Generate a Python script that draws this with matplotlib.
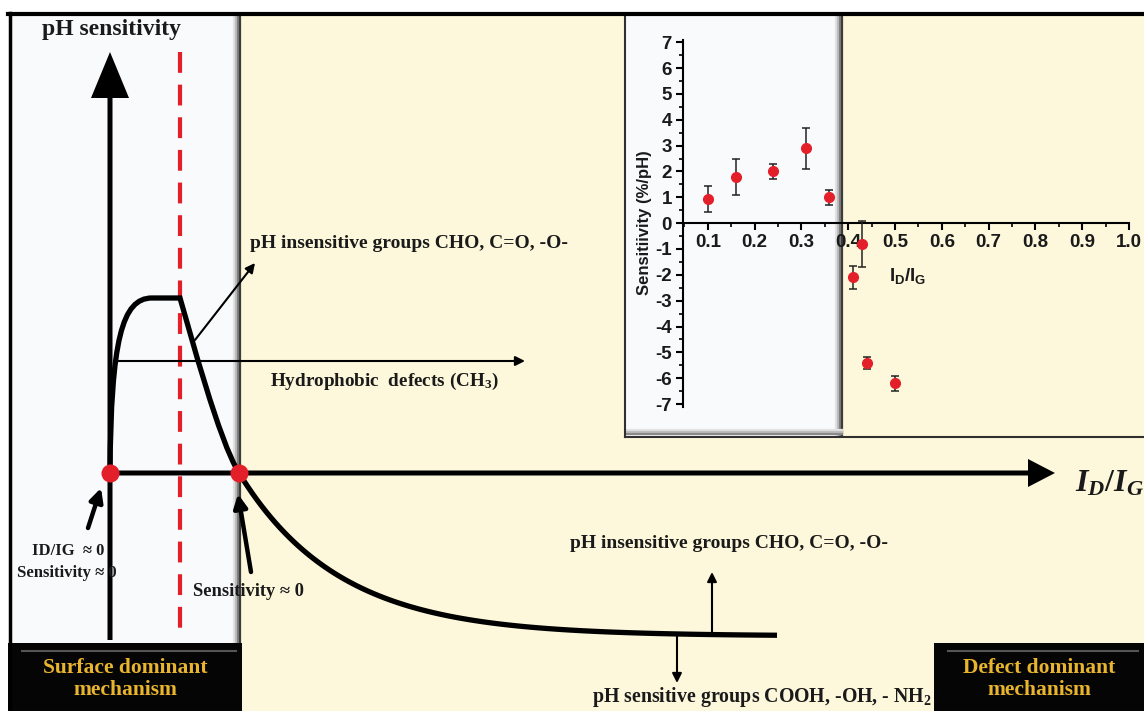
import numpy as np
import matplotlib
matplotlib.use("Agg")
import matplotlib.pyplot as plt
from matplotlib.patches import Rectangle, FancyArrow, PathPatch
from matplotlib.path import Path

plt.rcParams['mathtext.fontset'] = 'custom'
plt.rcParams['mathtext.rm'] = 'Liberation Serif:bold'
plt.rcParams['mathtext.it'] = 'Liberation Serif:italic:bold'
plt.rcParams['mathtext.bf'] = 'Liberation Serif:bold'
plt.rcParams['mathtext.sf'] = 'Liberation Sans:bold'
plt.rcParams['lines.scale_dashes'] = False
plt.rcParams['axes.unicode_minus'] = False

W, H = 1144, 711
SERIF = ['Liberation Serif', 'DejaVu Serif']
SANS = ['Liberation Sans', 'DejaVu Sans']

# measured sensitivity vs. I_D/I_G (inset)
ratio = [0.10, 0.16, 0.24, 0.31, 0.36, 0.41, 0.43, 0.44, 0.50]
sens = [0.95, 1.8, 2.0, 2.9, 1.0, -2.1, -0.8, -5.4, -6.2]
sens_err = [0.5, 0.7, 0.3, 0.8, 0.3, 0.45, 0.9, 0.23, 0.28]
xticks = [0.1, 0.2, 0.3, 0.4, 0.5, 0.6, 0.7, 0.8, 0.9, 1.0]
xtick_labels = ['0.1', '0.2', '0.3', '0.4', '0.5', '0.6', '0.7', '0.8', '0.9', '1.0']
yticks = list(range(-7, 8))

# schematic response curve, canvas pixels
rise = [(110, 473), (111, 340), (122, 298), (152, 298)]
plateau_end = (180, 298)
drop = [(190, 332), (219, 441), (239, 473)]
tail_x0, tail_y0, tail_floor, tail_len, tail_x1 = 239, 473, 636, 100, 777

cream = '#fdf8db'
pale = '#f8fafc'
gold = '#e9b52e'
red = '#e3202a'

fig = plt.figure(figsize=(W / 100, H / 100), dpi=100)
ax = fig.add_axes([0, 0, 1, 1])
ax.set_xlim(0, W)
ax.set_ylim(H, 0)
ax.axis('off')

# panels
ax.add_patch(Rectangle((240, 13), W - 240, H - 13, fc=cream, ec='none', zorder=0))
ax.add_patch(Rectangle((9, 13), 231, H - 13, fc=pale, ec='none', zorder=0))
for dx, c in [(-6, '#e2e2e2'), (-4, '#bdbdbd'), (-2, '#808080'), (0, '#3c3c3c')]:
    ax.plot([240 + dx, 240 + dx], [15, 643], color=c, lw=1.6, zorder=1)
ax.plot([8, W], [14, 14], color='k', lw=3, zorder=5)
ax.plot([9.5, 9.5], [13, H], color='k', lw=2.5, zorder=5)

# inset frame
ax.add_patch(Rectangle((625, 15), 217, 421, fc=pale, ec='none', zorder=1))
for dx, c in [(-6, '#e2e2e2'), (-4, '#bdbdbd'), (-2, '#808080'), (0, '#3c3c3c')]:
    ax.plot([842 + dx, 842 + dx], [15, 435], color=c, lw=1.6, zorder=2)
for dy, c in [(-6, '#e2e2e2'), (-4, '#bdbdbd'), (-2, '#8a8a8a')]:
    ax.plot([627, 842], [436 + dy, 436 + dy], color=c, lw=1.6, zorder=2)
ax.plot([625, 625], [15, 437], color='#303030', lw=1.5, zorder=3)
ax.plot([625, W], [436.5, 436.5], color='#303030', lw=1.5, zorder=3)

# mechanism boxes
for x0, w, label in [(8, 234, 'Surface dominant\nmechanism'),
                     (934, W - 934, 'Defect dominant\nmechanism')]:
    ax.add_patch(Rectangle((x0, 643), w, H - 643, fc='#050505', ec='none', zorder=4))
    ax.plot([x0 + 14, x0 + w - 6], [651, 651], color='#555555', lw=1.5, zorder=4)
    ax.text(x0 + w / 2, 679, label, ha='center', va='center', color=gold,
            family=SERIF, fontweight='bold', fontsize=15.5, linespacing=1.15, zorder=6)

# axes of the schematic
ax.add_patch(FancyArrow(110, 640, 0, 52 - 640, width=5, head_width=38,
                        head_length=46, length_includes_head=True,
                        fc='k', ec='none', zorder=5))
ax.add_patch(FancyArrow(110, 473, 1055 - 110, 0, width=5, head_width=28,
                        head_length=27, length_includes_head=True,
                        fc='k', ec='none', zorder=5))
ax.plot([180, 180], [52, 628], color=red, lw=3, dashes=[15, 8.5], zorder=4)

# response curve
tx = np.linspace(tail_x0, tail_x1, 120)
ty = tail_floor - (tail_floor - tail_y0) * np.exp(-(tx - tail_x0) / tail_len)
verts = rise + [plateau_end] + drop + list(zip(tx[1:], ty[1:]))
codes = ([Path.MOVETO] + [Path.CURVE4] * 3 + [Path.LINETO] + [Path.CURVE4] * 3
         + [Path.LINETO] * (len(tx) - 1))
ax.add_patch(PathPatch(Path(verts, codes), fc='none', ec='k', lw=3.8,
                       capstyle='butt', zorder=6))

ax.plot([110, 239], [473, 473], 'o', color=red, ms=13, mec='none', zorder=7)

# annotations
def arrow(start, tip, lw=1.5, scale=14):
    ax.annotate('', xy=tip, xytext=start,
                arrowprops=dict(arrowstyle='-|>', lw=lw, color='k',
                                mutation_scale=scale, shrinkA=0, shrinkB=0),
                zorder=6)

arrow((195, 340), (255, 263))
arrow((118, 361), (525, 361))
arrow((712, 633), (712, 572))
arrow((677, 635), (677, 683))
arrow((88, 528), (101, 488), lw=3.2, scale=20)
arrow((251, 572), (238, 494), lw=3.2, scale=20)

txt = dict(family=SERIF, fontweight='bold', color='#1a1a1a', va='center', zorder=6)
ax.text(111, 30, 'pH sensitivity', ha='center', fontsize=17, **txt)
ax.text(250, 243, 'pH insensitive groups CHO, C=O, -O-', ha='left', fontsize=14, **txt)
ax.text(270, 381, 'Hydrophobic  defects (CH$_3$)', ha='left', fontsize=13.8, **txt)
ax.text(68, 551, 'ID/IG  \u2248 0', ha='center', fontsize=12, **txt)
ax.text(67, 573, 'Sensitivity \u2248 0', ha='center', fontsize=12, **txt)
ax.text(193, 592, 'Sensitivity \u2248 0', ha='left', fontsize=13.3, **txt)
ax.text(570, 543, 'pH insensitive groups CHO, C=O, -O-', ha='left', fontsize=14, **txt)
ax.text(592, 697, 'pH sensitive groups COOH, -OH, - NH$_2$', ha='left', fontsize=14.3, **txt)
ax.text(1075, 483, r'$I_D/I_G$', ha='left', va='center', fontsize=23, color='#1a1a1a', zorder=6)

# inset scatter
x0p, x1p, y0p, y1p = 683, 1129, 39.7, 406.6
ins = fig.add_axes([x0p / W, (H - y1p) / H, (x1p - x0p) / W, (y1p - y0p) / H])
ins.patch.set_alpha(0)
ins.set_xlim(0.047, 1.0)
ins.set_ylim(-7.1, 7.1)
for s in ['top', 'right']:
    ins.spines[s].set_visible(False)
ins.spines['bottom'].set_position(('data', 0))
for s in ['left', 'bottom']:
    ins.spines[s].set_linewidth(1.5)
ins.set_xticks(xticks)
ins.set_xticklabels(xtick_labels)
ins.set_xticks(np.arange(0.05, 1.0, 0.1), minor=True)
ins.set_yticks(yticks)
ins.set_yticks(np.arange(-6.5, 7, 1.0), minor=True)
ins.tick_params(which='major', direction='out', length=5, width=1.5, pad=3)
ins.tick_params(which='minor', direction='out', length=3, width=1.2)
for lab in ins.get_xticklabels() + ins.get_yticklabels():
    lab.set_family(SANS)
    lab.set_fontweight('bold')
    lab.set_fontsize(13.5)
    lab.set_color('#1a1a1a')
ins.errorbar(ratio, sens, yerr=sens_err, fmt='o', color=red, ms=7,
             ecolor='#222222', elinewidth=1.1, capsize=3, capthick=1.1, zorder=5)
ins.text(0.526, -2.05, r'$\mathsf{I_D/I_G}$', ha='center', va='center',
         fontsize=13.5, color='#1a1a1a')
ax.text(645, 223, 'Sensitiivity (%/pH)', rotation=90, ha='center', va='center',
        family=SANS, fontweight='bold', fontsize=12, color='#1a1a1a', zorder=6)

fig.savefig('out.png', dpi=100)
